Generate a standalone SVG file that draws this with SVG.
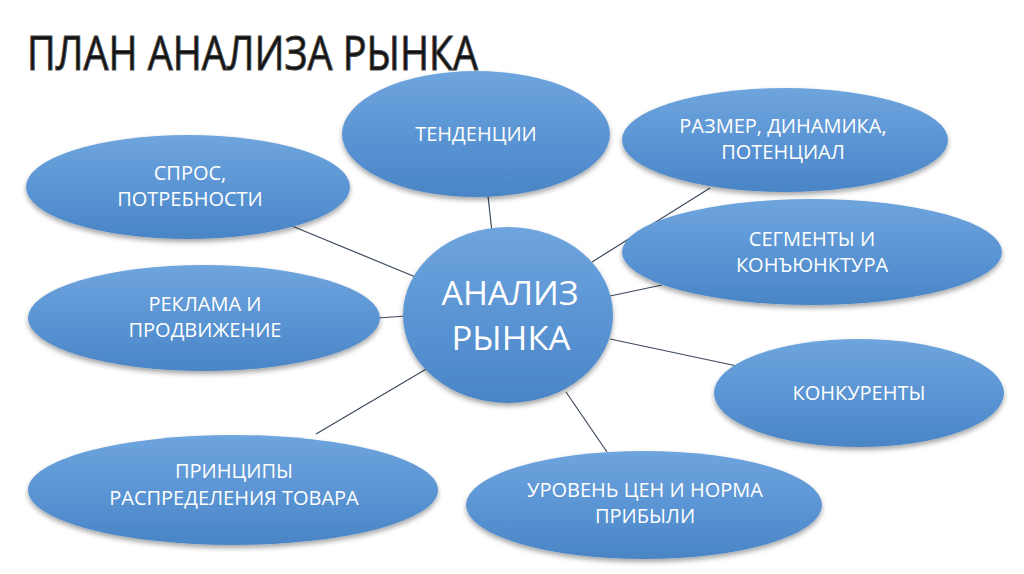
<svg xmlns="http://www.w3.org/2000/svg" width="1024" height="574" viewBox="0 0 1024 574">
<defs>
<linearGradient id="g" x1="0" y1="0" x2="0" y2="1">
<stop offset="0" stop-color="#6fa5dd"/>
<stop offset="0.5" stop-color="#5b95d4"/>
<stop offset="1" stop-color="#4a85c6"/>
</linearGradient>
<filter id="sh" x="-10%" y="-10%" width="120%" height="130%">
<feGaussianBlur in="SourceAlpha" stdDeviation="2.5"/>
<feOffset dy="3" result="b"/>
<feFlood flood-color="#000" flood-opacity="0.35"/>
<feComposite in2="b" operator="in"/>
<feMerge><feMergeNode/><feMergeNode in="SourceGraphic"/></feMerge>
</filter>
<style>
.n{fill:url(#g);filter:url(#sh)}
.t{font-family:"Open Sans","Liberation Sans",sans-serif;font-size:20px;fill:#fff;text-anchor:middle}
.c{font-family:"Open Sans","Liberation Sans",sans-serif;font-size:33px;fill:#fff;text-anchor:middle}
.l{stroke:#3d4a5c;stroke-width:1.2;fill:none}
</style>
</defs>
<rect width="1024" height="574" fill="#fff"/>
<text x="27" y="70" font-family="'Open Sans','Liberation Sans',sans-serif" font-size="48" fill="#111" stroke="#444" stroke-width="1.1" textLength="451" lengthAdjust="spacingAndGlyphs">ПЛАН АНАЛИЗА РЫНКА</text>
<g id="connectors">
<line class="l" x1="488" y1="196" x2="492" y2="232"/>
<line class="l" x1="592" y1="262" x2="710" y2="188"/>
<line class="l" x1="610" y1="296" x2="662" y2="285"/>
<line class="l" x1="292" y1="226" x2="418" y2="278"/>
<line class="l" x1="378" y1="318" x2="406" y2="316"/>
<line class="l" x1="316" y1="434" x2="428" y2="368"/>
<line class="l" x1="610" y1="339" x2="737" y2="366"/>
<line class="l" x1="566" y1="392" x2="607" y2="452"/>
</g>
<g id="tendencii"><ellipse class="n" cx="476" cy="134" rx="134" ry="63"/><text class="t" x="476" y="141">ТЕНДЕНЦИИ</text></g>
<g id="razmer"><ellipse class="n" cx="785" cy="140" rx="163" ry="52"/><text class="t" x="783" y="133">РАЗМЕР, ДИНАМИКА,</text><text class="t" x="783" y="159">ПОТЕНЦИАЛ</text></g>
<g id="spros"><ellipse class="n" cx="188" cy="187" rx="162" ry="52"/><text class="t" x="190" y="180">СПРОС,</text><text class="t" x="190" y="206">ПОТРЕБНОСТИ</text></g>
<g id="segmenty"><ellipse class="n" cx="812" cy="252" rx="190" ry="53"/><text class="t" x="812" y="246">СЕГМЕНТЫ И</text><text class="t" x="812" y="272">КОНЪЮНКТУРА</text></g>
<g id="reklama"><ellipse class="n" cx="204" cy="318" rx="176" ry="53"/><text class="t" x="205" y="311">РЕКЛАМА И</text><text class="t" x="205" y="337">ПРОДВИЖЕНИЕ</text></g>
<g id="center"><ellipse class="n" cx="508" cy="315" rx="105" ry="88"/><text class="c" x="510" y="305" textLength="137" lengthAdjust="spacingAndGlyphs">АНАЛИЗ</text><text class="c" x="511" y="350" textLength="119" lengthAdjust="spacingAndGlyphs">РЫНКА</text></g>
<g id="konkurenty"><ellipse class="n" cx="859" cy="393" rx="145" ry="54"/><text class="t" x="859" y="400">КОНКУРЕНТЫ</text></g>
<g id="principy"><ellipse class="n" cx="233" cy="490" rx="205" ry="55"/><text class="t" x="234" y="478">ПРИНЦИПЫ</text><text class="t" x="234" y="505">РАСПРЕДЕЛЕНИЯ ТОВАРА</text></g>
<g id="uroven"><ellipse class="n" cx="644" cy="505" rx="178" ry="54"/><text class="t" x="645" y="497">УРОВЕНЬ ЦЕН И НОРМА</text><text class="t" x="645" y="523">ПРИБЫЛИ</text></g>
</svg>
